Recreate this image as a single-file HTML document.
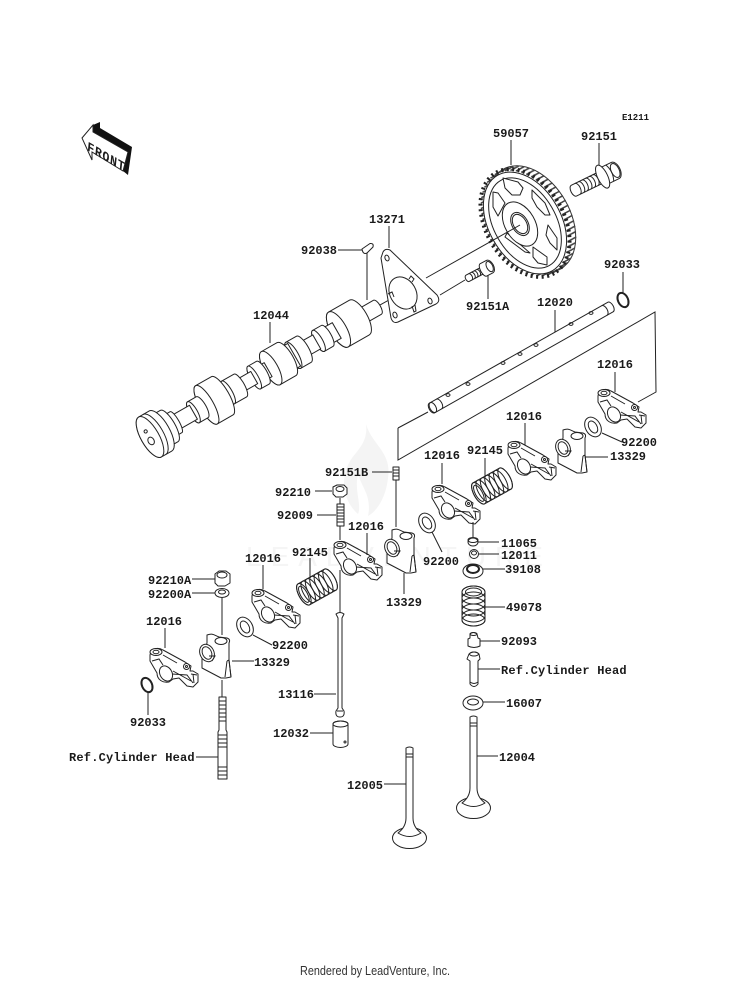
<!DOCTYPE html>
<html><head><meta charset="utf-8"><style>
html,body{margin:0;padding:0;background:#fff}
svg{display:block}
text{font-family:"Liberation Mono",monospace;font-size:12px;font-weight:bold;fill:#1a1a1a}
.s{fill:#fff;stroke:#222;stroke-width:1;stroke-linejoin:round}
.n{fill:none;stroke:#222;stroke-width:1}
.l{stroke:#222;stroke-width:1;fill:none}
</style></head><body>
<svg width="750" height="981" viewBox="0 0 750 981" xmlns="http://www.w3.org/2000/svg">
<defs>
<g id="rocker">
<path class="s" d="M1,8 L1,14 L8,26 C8,33 14,36 20,35 L24,32 L30,31 L38,39 L44,40 L49,35 L49,27 L44,24 L41,24 L42,19 L36,15 L14,3 C9,0 2,1 1,8Z"/>
<ellipse class="s" cx="7" cy="5" rx="6" ry="3.500"/><ellipse class="n" cx="7" cy="5" rx="3" ry="1.700"/>
<ellipse class="s" cx="17" cy="26.500" rx="6" ry="8" transform="rotate(-30 17 26.500)"/>
<circle class="s" cx="37.500" cy="19.500" r="3"/><circle class="n" cx="37.500" cy="19.500" r="1"/>
<path class="n" d="M3,14 L10,12 L14,18 M14,8 L28,16 M23,27 L38,28 L44,36 M24,24 L42,34 M42,27 L48,28 M44,27 L45,36"/>
</g>
<g id="block">
<path class="s" d="M8,2 C14,0 15,2 20,4 L28,5 C31,6 31,8 30,10 L30,27 L32,44 L27,45 L22,45 L3,35 L3,26 L8,10Z"/>
<ellipse class="s" cx="8" cy="20" rx="7" ry="9" transform="rotate(-25 8 20)"/>
<ellipse class="n" cx="8" cy="20" rx="4.500" ry="6.500" transform="rotate(-25 8 20)"/>
<ellipse class="s" cx="22" cy="8" rx="6" ry="3.500"/>
<path class="n" d="M10,23 L16,23 L13,28 M28,28 L30,27 L32,44 M26,44 L28,28"/>
</g>
<g id="spring" transform="rotate(-29)">
<path class="s" d="M-15,-12 L15,-12 A5,12 0 0 1 15,12 L-15,12 A5,12 0 0 1 -15,-12Z"/>
<ellipse class="n" cx="-15" cy="0" rx="5" ry="12"/><ellipse class="n" cx="-15" cy="0" rx="3.500" ry="9"/>
<ellipse class="n" cx="-10" cy="0" rx="5" ry="12"/><ellipse class="n" cx="-5" cy="0" rx="5" ry="12"/>
<ellipse class="n" cx="0" cy="0" rx="5" ry="12"/><ellipse class="n" cx="5" cy="0" rx="5" ry="12"/>
<ellipse class="n" cx="10" cy="0" rx="5" ry="12"/><ellipse class="n" cx="15" cy="0" rx="5" ry="12"/>
</g>
<g id="washer"><ellipse class="s" cx="0" cy="0" rx="7.500" ry="10.500" transform="rotate(-30)"/><ellipse class="n" cx="0" cy="0" rx="4" ry="6.500" transform="rotate(-30)"/></g>
<g id="ring"><ellipse class="n" style="stroke-width:2" cx="0" cy="0" rx="5" ry="7.500" transform="rotate(-25)"/></g>
<ellipse id="t" cx="0" cy="0" rx="57" ry="38" fill="none" stroke="#444" stroke-width="1.500" stroke-dasharray="1.500 4" transform="rotate(60)"/>
</defs>
<rect width="750" height="981" fill="#fff"/>

<!-- watermark -->
<path d="M366,424 C372,445 392,452 388,478 C386,498 376,512 368,516 C372,496 362,488 358,474 C354,490 362,505 358,514 C344,502 338,478 352,458 C360,448 368,440 366,424Z" fill="#f4f4f4"/>
<text x="246" y="566" style="font-family:'Liberation Sans',sans-serif;font-size:28px;font-weight:normal;letter-spacing:9px;fill:#f5f5f5">LEADVENTURE</text>

<!-- front arrow -->
<path d="M93,125 L100,122 L100,128 L132,147 L128,175 L123,171 L93,152Z" fill="#111"/>
<path d="M82,138 L93,125 L93,132 L128,152 L123,171 L92,152 L92,160Z" fill="#fff" stroke="#222"/>
<text transform="matrix(.87 .5 -.1 1 87 150)" style="font-size:13px;letter-spacing:.9px">FRONT</text>

<!-- gear -->
<g transform="translate(525 223)">
<g transform="translate(7 -4)"><ellipse cx="0" cy="0" rx="57.500" ry="38" fill="#fff" stroke="#333" transform="rotate(60)"/></g>
<use href="#t" x="7" y="-3.700"/><use href="#t" x="6" y="-3.200"/><use href="#t" x="5" y="-2.700"/><use href="#t" x="4" y="-2.100"/><use href="#t" x="3" y="-1.600"/><use href="#t" x="2" y="-1.100"/><use href="#t" x="1" y="-.500"/><use href="#t" x="0" y="0"/>
<ellipse cx="0" cy="0" rx="58" ry="39" fill="none" stroke="#222" stroke-width="4" stroke-dasharray="2 3.500" transform="rotate(60)"/>
<ellipse class="s" cx="0" cy="0" rx="55" ry="36" transform="rotate(60)"/>
<ellipse class="n" cx="0" cy="0" rx="49" ry="31" transform="rotate(60)"/>
</g>
<path class="s" d="M503,178 L518,182 L523,188 L520,195 L512,195 L505,188Z"/>
<path class="s" d="M493,192 L498,193 L505,203 L498,216 L493,207Z"/>
<path class="s" d="M532,190 L545,203 L550,215 L545,215 L537,207 L532,198Z"/>
<path class="s" d="M548,225 L557,238 L557,250 L550,243 L546,235Z"/>
<path class="s" d="M533,247 L547,257 L547,265 L538,263 L533,257Z"/>
<path class="s" d="M507,233 L530,253 L525,252 L505,237Z"/>
<g transform="translate(520 224) rotate(60)">
<ellipse class="s" cx="0" cy="0" rx="24" ry="15"/>
<ellipse class="s" cx="0" cy="0" rx="12.500" ry="8"/>
<ellipse class="n" cx="0" cy="0" rx="10.500" ry="6.500"/>
</g>
<path class="l" d="M426,278 L520,225 M440,295 L465,280 M380,305 L405,291"/>

<!-- bolt 92151 -->
<g transform="translate(608 174) rotate(-26)">
<path class="s" d="M-38,-6 L-10,-6 L-10,6 L-38,6 A3,6 0 0 1 -38,-6Z"/>
<path class="n" d="M-34,-6 a3,6 0 0 1 0,12 M-30,-6 a3,6 0 0 1 0,12 M-26,-6 a3,6 0 0 1 0,12 M-22,-6 a3,6 0 0 1 0,12 M-18,-6 a3,6 0 0 1 0,12 M-14,-6 a3,6 0 0 1 0,12"/>
<path class="s" d="M-7,-9 L8,-9 A5,9 0 0 1 8,9 L-7,9Z"/>
<ellipse class="n" cx="8" cy="0" rx="4" ry="7.500"/>
<path class="n" d="M2,-9 Q6,0 2,9"/>
<ellipse class="s" cx="-6" cy="0" rx="5" ry="12.500"/>
</g>
<!-- bolt 92151A -->
<g transform="translate(487 268) rotate(-28)">
<path class="s" d="M-22,-3.500 L-3,-3.500 L-3,3.500 L-22,3.500 A2,3.500 0 0 1 -22,-3.500Z"/>
<path class="n" d="M-19,-3.500 a2,3.500 0 0 1 0,7 M-16,-3.500 a2,3.500 0 0 1 0,7 M-13,-3.500 a2,3.500 0 0 1 0,7 M-10,-3.500 a2,3.500 0 0 1 0,7 M-7,-3.500 a2,3.500 0 0 1 0,7"/>
<path class="s" d="M-4,-7 L3,-7 A4,7 0 0 1 3,7 L-4,7 A3,7 0 0 1 -4,-7Z"/>
<ellipse class="n" cx="3" cy="0" rx="3" ry="5.500"/>
</g>

<!-- plate 13271 -->
<path class="s" d="M383,252 Q385,248 390,250 L437,295 Q441,301 436,304 L398,322 Q393,324 391,318 L381,258Z"/>
<ellipse class="s" cx="403" cy="293" rx="13" ry="17" transform="rotate(-30 403 293)"/>
<ellipse class="n" cx="387" cy="258" rx="2" ry="3" transform="rotate(-20 387 258)"/>
<ellipse class="n" cx="430" cy="301" rx="2" ry="3" transform="rotate(-20 430 301)"/>
<ellipse class="n" cx="395" cy="315" rx="2" ry="3" transform="rotate(-20 395 315)"/>
<path class="n" d="M409,279 L411,276 L414,279 L412,282 M388,294 L392,292 L394,297 M412,306 L414,312 L416,311 L415,305"/>

<!-- camshaft -->
<g transform="translate(150 437) rotate(-29.700)">
<path class="s" d="M262,-8 A3,8 0 0 1 262,8 L241,8 L241,-8Z"/>
<path class="s" d="M241,-20 A8,20 0 0 1 241,20 L217,20 A8,20 0 0 1 217,-20Z"/><ellipse class="s" cx="217" cy="0" rx="8" ry="20"/>
<path class="s" d="M215,-9 L204,-9 L204,9 L215,9Z"/>
<path class="s" d="M204,-12 A4,12 0 0 1 204,12 L194,12 A4,12 0 0 1 194,-12Z"/><ellipse class="s" cx="194" cy="0" rx="4" ry="12"/>
<path class="s" d="M192,-8 L177,-8 L177,8 L192,8Z"/>
<path class="s" d="M177,-15 A5,15 0 0 1 177,15 L165,15 A5,15 0 0 1 165,-15Z"/><ellipse class="s" cx="165" cy="0" rx="5" ry="15"/>
<path class="s" d="M166,-13 L155,-13 L155,13 L166,13Z"/>
<path class="s" d="M157,-19 A7,19 0 0 1 157,19 L139,19 A7,19 0 0 1 139,-19Z"/><ellipse class="s" cx="139" cy="0" rx="7" ry="19"/>
<path class="s" d="M136,-8 L128,-8 L128,8 L136,8Z"/>
<path class="s" d="M130,-13 A4,13 0 0 1 130,13 L120,13 A4,13 0 0 1 120,-13Z"/><ellipse class="s" cx="120" cy="0" rx="4" ry="13"/>
<path class="s" d="M120,-7 L104,-7 L104,7 L120,7Z"/>
<path class="s" d="M104,-13 A4,13 0 0 1 104,13 L90,13 A4,13 0 0 1 90,-13Z"/><ellipse class="s" cx="90" cy="0" rx="4" ry="13"/>
<path class="s" d="M83,-22 A7,22 0 0 1 83,22 L65,22 A7,22 0 0 1 65,-22Z"/><ellipse class="s" cx="65" cy="0" rx="7" ry="22"/>
<path class="s" d="M62,-8 L56,-8 L56,8 L62,8Z"/>
<path class="s" d="M60,-12 A4,12 0 0 1 60,12 L50,12 A4,12 0 0 1 50,-12Z"/><ellipse class="s" cx="50" cy="0" rx="4" ry="12"/>
<path class="s" d="M50,-8 L28,-8 L28,8 L50,8Z"/>
<path class="s" d="M30,-12 A3,12 0 0 1 30,12 L20,12 A3,12 0 0 1 20,-12Z"/>
<path class="s" d="M22,-18 A6,18 0 0 1 22,18 L12,18 L12,-18Z"/>
<path class="s" d="M12,-23 A9,23 0 0 1 12,23 L0,23 A9,23 0 0 1 0,-23Z"/>
<path class="n" d="M5,-23 A9,23 0 0 1 5,23"/>
<ellipse class="s" cx="0" cy="0" rx="9" ry="23"/>
<ellipse class="n" cx="-1" cy="4" rx="3" ry="4"/>
<circle class="n" cx="-1" cy="-7" r="1.600"/>
</g>
<!-- key -->
<path class="s" d="M362,249 L370,243.500 Q374,243 373,247 L367,253 Q363,255 362,249Z"/>

<!-- washers -->
<use href="#ring" x="623" y="300"/>
<use href="#ring" x="147" y="685"/>

<!-- rocker shaft + box -->
<path class="l" d="M398,428 L428,412 M398,428 L398,460 L655,312 L656,392 L638,402"/>
<g transform="translate(432 408) rotate(-29.500)">
<path class="s" d="M0,-5.500 L205,-5.500 A3,5.500 0 0 1 205,5.500 L0,5.500 A3,5.500 0 0 1 0,-5.500Z"/>
<ellipse class="n" cx="1" cy="0" rx="3" ry="5.500"/><path class="n" d="M8,-5.500 A3,5.500 0 0 1 8,5.500 M198,-5.500 A3,5.500 0 0 1 198,5.500"/>
</g>
<g class="n">
<ellipse cx="448" cy="395" rx="2" ry="1.400"/><ellipse cx="468" cy="384" rx="2" ry="1.400"/><ellipse cx="503" cy="363" rx="2" ry="1.400"/><ellipse cx="520" cy="354" rx="2" ry="1.400"/><ellipse cx="536" cy="345" rx="2" ry="1.400"/><ellipse cx="571" cy="324" rx="2" ry="1.400"/><ellipse cx="591" cy="313" rx="2" ry="1.400"/>
</g>

<!-- rockers -->
<use href="#rocker" x="597" y="388"/>
<use href="#rocker" x="507" y="440"/>
<use href="#rocker" x="431" y="484"/>
<use href="#rocker" x="333" y="540"/>
<use href="#rocker" x="251" y="588"/>
<use href="#rocker" x="149" y="647"/>
<!-- blocks -->
<use href="#block" x="555" y="428"/>
<use href="#block" x="384" y="528"/>
<use href="#block" x="199" y="633"/>
<!-- springs -->
<use href="#spring" x="492" y="486"/>
<use href="#spring" x="317" y="587"/>
<!-- flat washers -->
<use href="#washer" x="593" y="427"/>
<use href="#washer" x="427" y="523"/>
<use href="#washer" x="245" y="627"/>

<!-- small parts -->
<path class="s" d="M393,467 L399,467 L399,480 L393,480Z"/><path class="n" d="M393,470 H399 M393,473 H399 M393,476 H399"/>
<path class="s" d="M333,487 L337,485 L344,485 L347,488 L347,494 L343,497 L336,497 L333,494Z"/><ellipse class="n" cx="340" cy="489" rx="4" ry="2.500"/>
<path class="s" d="M337,504 L344,504 L344,526 L337,526Z"/><path class="n" d="M337,507 H344 M337,510 H344 M337,513 H344 M337,516 H344 M337,519 H344 M337,522 H344"/>
<!-- 92210A, 92200A -->
<path class="s" d="M215,574 L219,571 L226,571 L230,574 L230,583 L225,586 L218,586 L215,583Z"/><ellipse class="n" cx="222" cy="575" rx="5" ry="3"/>
<ellipse class="s" cx="222" cy="593" rx="7" ry="4.500"/><ellipse class="n" cx="222" cy="592" rx="3.500" ry="2"/>
<!-- stud -->
<path class="s" d="M219,697 L226,697 L226,730 L227,732 L227,779 L218,779 L218,732 L219,730Z"/>
<path class="n" d="M219,701 H226 M219,705 H226 M219,709 H226 M219,713 H226 M219,717 H226 M219,721 H226 M218,735 H227 M218,739 H227 M218,743 H227 M218,747 H227 M218,767 H227 M218,771 H227 M218,775 H227"/>
<!-- pushrod -->
<path class="s" d="M336,614 Q340,611 344,614 L342,618 L342,708 L344,711 Q345,717 340,717 Q335,717 336,711 L338,708 L338,618Z"/><path class="n" d="M337,711 H343"/>
<!-- tappet -->
<path class="s" d="M333,724 A7.500,3 0 0 1 348,724 L348,744 A7.500,3.500 0 0 1 333,744Z"/><ellipse class="n" cx="340.500" cy="724" rx="7.500" ry="3"/><circle class="n" cx="345" cy="742" r="1"/>
<!-- valve train -->
<ellipse class="s" cx="473" cy="542" rx="5" ry="4"/><ellipse class="n" cx="473" cy="540" rx="5" ry="2.500"/>
<ellipse class="s" cx="474" cy="554" rx="4.500" ry="4.500"/><ellipse class="n" cx="474" cy="553" rx="2.500" ry="2"/>
<ellipse class="s" cx="473" cy="571" rx="10" ry="7"/><ellipse class="n" cx="473" cy="569" rx="6" ry="4" style="stroke-width:2"/>
<!-- spring 49078 -->
<path class="s" d="M462,592 A11.500,6 0 0 1 485,592 L485,620 A11.500,6 0 0 1 462,620Z"/>
<g class="n"><ellipse cx="473.500" cy="592" rx="11.500" ry="6"/><ellipse cx="473.500" cy="592" rx="8" ry="4"/><ellipse cx="473.500" cy="598" rx="11.500" ry="6"/><ellipse cx="473.500" cy="604" rx="11.500" ry="6"/><ellipse cx="473.500" cy="610" rx="11.500" ry="6"/><ellipse cx="473.500" cy="616" rx="11.500" ry="6"/><ellipse cx="473.500" cy="620" rx="11.500" ry="6"/></g>
<!-- 92093 -->
<path class="s" d="M470,634 Q473,631 477,634 L478,638 L480,639 L480,646 Q474,649 468,646 L468,639 L470,638Z"/><ellipse class="n" cx="473.500" cy="634" rx="3.500" ry="1.500"/>
<!-- guide -->
<path class="s" d="M469,654 Q474,650 479,654 L480,659 L478,661 L478,684 Q474,689 470,684 L470,661 L467,659Z"/><ellipse class="n" cx="474" cy="654" rx="4.500" ry="2"/><path class="n" d="M470,682 Q474,685 478,682"/>
<!-- 16007 -->
<ellipse class="s" cx="473" cy="703" rx="10" ry="7"/><ellipse class="n" cx="473" cy="702" rx="5.500" ry="3"/>
<!-- valves -->
<ellipse class="s" cx="473.500" cy="808" rx="17" ry="10.500"/>
<path class="s" d="M470,717 Q473.500,715 477,717 L477,788 Q477,797 485,803 Q473.500,810 462,803 Q470,797 470,788Z"/><path class="n" d="M470,723 H477 M470,726 H477"/>
<ellipse class="s" cx="409.500" cy="838" rx="17" ry="10.500"/>
<path class="s" d="M406,748 Q409.500,746 413,748 L413,818 Q413,827 421,833 Q409.500,840 398,833 Q406,827 406,818Z"/><path class="n" d="M406,754 H413 M406,757 H413"/>

<!-- leader lines -->
<path class="l" d="M511,140 V165 M599,143 V165 M389,226 V248 M338,250 H362 M367,253 V300 M270,322 V343 M488,275 V299 M623,272 V293 M555,310 V332
M615,372 V392 M525,423 V445 M442,463 V484 M485,458 V478 M602,433 L622,442 M585,457 H608 M432,532 L442,552 M478,542 H499 M479,554 H499 M473,522 V537
M483,569 H505 M485,607 H505 M480,641 H500 M478,669 H500 M483,702 H505 M477,756 H498 M384,784 H406 M340,570 V613 M314,694 H336 M310,733 H333
M196,757 H218 M222,680 V697 M192,579 H215 M192,593 H215 M222,598 V635 M165,628 V648 M263,565 V589 M310,558 V578 M253,635 L272,645 M232,661 H254 M148,692 V715
M367,533 V555 M404,573 V594 M372,472 H392 M396,480 V527 M315,491 H332 M317,515 H336 M340,498 V504 M340,526 V540"/>

<!-- labels -->
<text x="493" y="137">59057</text>
<text x="581" y="140">92151</text>
<text x="622" y="120" style="font-size:9px">E1211</text>
<text x="369" y="223">13271</text>
<text x="301" y="254">92038</text>
<text x="253" y="319">12044</text>
<text x="466" y="310">92151A</text>
<text x="604" y="268">92033</text>
<text x="537" y="306">12020</text>
<text x="597" y="368">12016</text>
<text x="506" y="420">12016</text>
<text x="621" y="446">92200</text>
<text x="610" y="460">13329</text>
<text x="467" y="454">92145</text>
<text x="424" y="459">12016</text>
<text x="325" y="476">92151B</text>
<text x="275" y="496">92210</text>
<text x="277" y="519">92009</text>
<text x="348" y="530">12016</text>
<text x="292" y="556">92145</text>
<text x="245" y="562">12016</text>
<text x="501" y="547">11065</text>
<text x="501" y="559">12011</text>
<text x="423" y="565">92200</text>
<text x="505" y="573">39108</text>
<text x="148" y="584">92210A</text>
<text x="148" y="598">92200A</text>
<text x="506" y="611">49078</text>
<text x="386" y="606">13329</text>
<text x="146" y="625">12016</text>
<text x="272" y="649">92200</text>
<text x="254" y="666">13329</text>
<text x="501" y="645">92093</text>
<text x="501" y="674" style="letter-spacing:.2px">Ref.Cylinder Head</text>
<text x="278" y="698">13116</text>
<text x="130" y="726">92033</text>
<text x="506" y="707">16007</text>
<text x="273" y="737">12032</text>
<text x="499" y="761">12004</text>
<text x="69" y="761" style="letter-spacing:.2px">Ref.Cylinder Head</text>
<text x="347" y="789">12005</text>
<text x="300" y="975" textLength="150" lengthAdjust="spacingAndGlyphs" style="font-family:'Liberation Sans',sans-serif;font-size:13px;font-weight:normal;fill:#333">Rendered by LeadVenture, Inc.</text>
</svg>
</body></html>
